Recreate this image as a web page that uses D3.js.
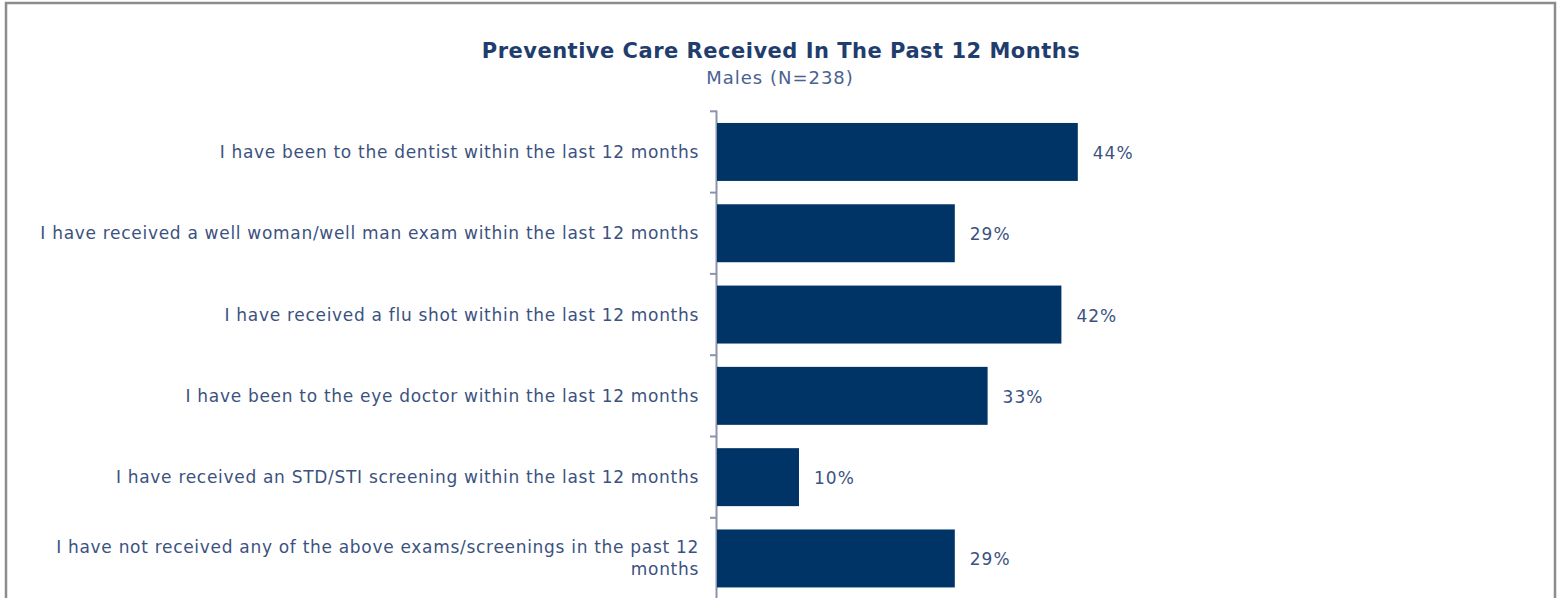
<!DOCTYPE html>
<html><head><meta charset="utf-8">
<script src="https://cdn.jsdelivr.net/npm/d3@7"></script>
<style>
html,body{margin:0;padding:0;background:#fff;}
svg{display:block;}
</style></head>
<body>
<svg id="chart" width="1561" height="598"></svg>
<script>
const title = "Preventive Care Received In The Past 12 Months";
const subtitle = "Males (N=238)";
const categories = [
  "I have been to the dentist within the last 12 months",
  "I have received a well woman/well man exam within the last 12 months",
  "I have received a flu shot within the last 12 months",
  "I have been to the eye doctor within the last 12 months",
  "I have received an STD/STI screening within the last 12 months",
  "I have not received any of the above exams/screenings in the past 12 months"
];
const labelLines = [
  ["I have been to the dentist within the last 12 months"],
  ["I have received a well woman/well man exam within the last 12 months"],
  ["I have received a flu shot within the last 12 months"],
  ["I have been to the eye doctor within the last 12 months"],
  ["I have received an STD/STI screening within the last 12 months"],
  ["I have not received any of the above exams/screenings in the past 12", "months"]
];
const values = [44, 29, 42, 33, 10, 29];

const svg = d3.select("#chart");
const font = "'DejaVu Sans', sans-serif";

// frame
svg.append("path").attr("d","M6,598 V3 H1555 V598")
  .attr("fill","none").attr("stroke","#8c8c8c").attr("stroke-width",2.5);

svg.append("text").attr("x",781).attr("y",58).attr("text-anchor","middle")
  .attr("font-family",font).attr("font-weight",700).attr("font-size",21)
  .attr("letter-spacing",0.5)
  .attr("fill","#1f3d6d").text(title);
svg.append("text").attr("x",780).attr("y",84).attr("text-anchor","middle")
  .attr("font-family",font).attr("font-size",18).attr("letter-spacing",1)
  .attr("fill","#4a6290").text(subtitle);

const axisX = 716.5;
const y = d3.scaleBand().domain(categories).range([111.3, 599.1]).paddingInner(0.287).paddingOuter(0.1435);
const x = d3.scaleLinear().domain([0, 50]).range([axisX + 0.5, axisX + 0.5 + 410]);

// axis line and ticks
svg.append("line").attr("x1",axisX).attr("x2",axisX).attr("y1",110.5).attr("y2",598)
  .attr("stroke","#8b93ad").attr("stroke-width",2);
const step = y.step();
const tickYs = d3.range(categories.length + 1).map(i => y.range()[0] + i * step);
svg.selectAll("line.tick").data(tickYs).enter().append("line")
  .attr("x1",710).attr("x2",axisX).attr("y1",d=>d).attr("y2",d=>d)
  .attr("stroke","#8b93ad").attr("stroke-width",2);

// bars
svg.selectAll("rect.bar").data(categories).enter().append("rect")
  .attr("x", x(0)).attr("y", d => y(d))
  .attr("width", (d,i) => x(values[i]) - x(0)).attr("height", y.bandwidth())
  .attr("fill","#003366");

// value labels
svg.selectAll("text.val").data(categories).enter().append("text")
  .attr("x", (d,i) => x(values[i]) + 15).attr("y", d => y(d) + y.bandwidth()/2 + 7)
  .attr("font-family",font).attr("font-size",17).attr("letter-spacing",1).attr("fill","#3b5280")
  .text((d,i) => values[i] + "%");

// category labels
categories.forEach((c,i) => {
  const lines = labelLines[i];
  const cy = y(c) + y.bandwidth()/2;
  const lh = 22;
  const t = svg.append("text").attr("text-anchor","end")
    .attr("font-family",font).attr("font-size",17).attr("fill","#3b5280")
    .attr("letter-spacing",0.7);
  lines.forEach((ln,j) => {
    t.append("tspan").attr("x",699)
      .attr("y", cy + 6 + (j - (lines.length-1)/2) * lh).text(ln);
  });
});
</script>
</body></html>
